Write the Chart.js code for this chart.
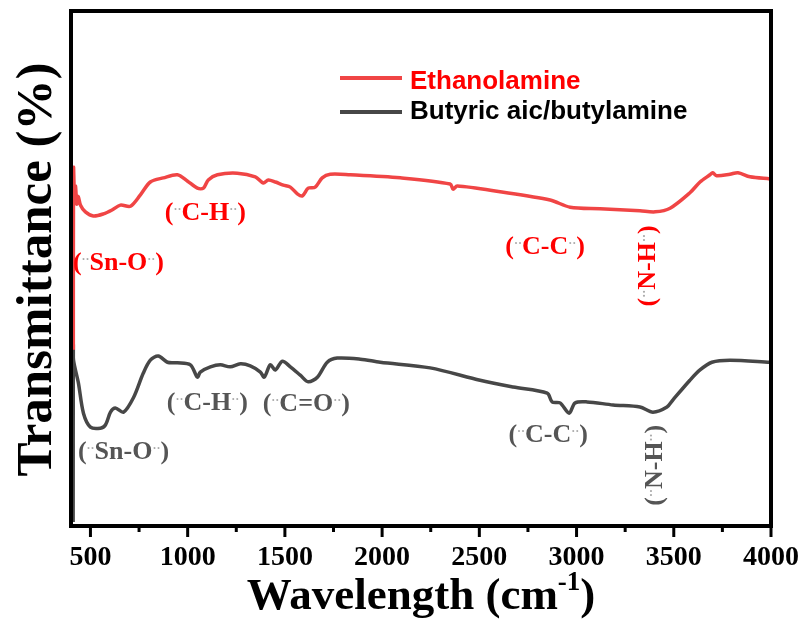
<!DOCTYPE html>
<html>
<head>
<meta charset="utf-8">
<script src="https://cdn.jsdelivr.net/npm/chart.js@4/dist/chart.umd.min.js"></script>
<style>
html,body{margin:0;padding:0;background:#fff;}
#wrap{width:806px;height:623px;position:relative;}
</style>
</head>
<body>
<div id="wrap"><canvas id="c" width="806" height="623"></canvas></div>
<script>
// Ethanolamine spectrum [wavenumber, transmittance (arb.)]
const ethanolamineX = [412,413,418,423,430,437,449,474,515,567,613,654,706,757,808,875,947,998,1050,1081,1106,1153,1255,1348,1389,1415,1451,1492,1528,1564,1590,1620,1656,1692,1733,1836,2093,2350,2365,2386,2607,2864,2967,3121,3326,3404,3481,3583,3635,3686,3700,3720,3789,3830,3892,3994];
const ethanolamineY = [34.2,69.5,64.0,66.0,62.5,64.0,62.3,61.0,60.2,60.6,61.4,62.3,62.1,64.3,66.8,67.6,68.2,67.0,65.6,65.6,67.2,68.2,68.5,67.8,66.6,67.2,66.8,66.2,65.8,64.5,64.1,65.6,65.8,67.6,68.3,68.2,67.6,66.4,65.4,66.0,64.9,63.3,61.9,61.6,61.2,61.0,61.7,64.7,66.8,68.2,68.6,68.0,68.3,68.6,67.8,67.4];
// Butyric acid/butylamine spectrum
const butylX = [411,412,413,438,464,500,551,577,603,628,670,721,772,808,849,896,947,1014,1050,1065,1117,1168,1219,1271,1322,1374,1394,1425,1451,1487,1528,1579,1620,1667,1718,1769,1888,1990,2247,2504,2674,2849,2874,2915,2962,2992,3054,3188,3326,3393,3465,3496,3583,3635,3696,3789,3994];
const butylY = [0.8,35.1,32.2,27.8,21.9,19.2,19.0,19.6,22.1,22.9,22.1,24.9,29.7,32.2,33.0,31.8,31.7,31.3,28.9,29.9,30.9,31.3,30.9,31.5,31.1,29.9,28.9,31.3,30.3,32.0,30.9,29.3,28.0,28.9,31.8,32.6,32.4,31.8,30.7,28.3,27.0,25.8,24.1,23.9,21.9,23.9,24.1,23.5,23.1,22.1,23.1,24.5,28.3,30.3,31.8,32.2,31.8];

const seriesNames = ["Ethanolamine", "Butyric aic/butylamine"];
const majorTicks = [500,1000,1500,2000,2500,3000,3500,4000];
const minorTicks = [750,1250,1750,2250,2750,3250,3750];

// annotation labels: text, x (cm-1), y, series index, vertical?
const labelText = ["Sn-O","C-H","C-C","N-H","Sn-O","C-H","C=O","C-C","N-H"];
const labelX    = [644,1091,2838,3368,670,1101,1610,2854,3404];
const labelY    = [51.1,60.8,54.2,50.5,14.4,23.9,23.7,17.7,11.8];
const labelSeries = [0,0,0,0,1,1,1,1,1];
const labelVertical = [false,false,false,true,false,false,false,false,true];

const lineColors = ["#f04545","#474747"];
const textColors = ["#ff0000","#555555"];
const legendTextColors = ["#ff0000","#000000"];

function toPts(xs, ys){ return xs.map((x,i)=>({x:x,y:ys[i]})); }

const serif = "'Liberation Serif','Times New Roman',serif";
const sans = "'Liberation Sans',Arial,sans-serif";

function drawLabel(ctx, text, cx, cy, color, vertical){
  const big = "bold 26px " + serif;
  const small = "bold 12px " + serif;
  const segs = [["(",big,color],["··",small,"rgba(150,150,150,0.8)"],[text,big,color],["··",small,"rgba(150,150,150,0.8)"],[")",big,color]];
  ctx.save();
  let w = 0;
  segs.forEach(s=>{ctx.font=s[1]; s.w=ctx.measureText(s[0]).width; w+=s.w;});
  ctx.translate(cx, cy);
  if (vertical) ctx.rotate(-Math.PI/2);
  ctx.textBaseline = "middle";
  ctx.textAlign = "left";
  let x = -w/2;
  segs.forEach(s=>{
    ctx.font = s[1]; ctx.fillStyle = s[2];
    ctx.fillText(s[0], x, s[1]===small ? -3 : 0);
    x += s.w;
  });
  ctx.restore();
}

const decor = {
  id: 'decor',
  afterDatasetsDraw(chart){
    const ctx = chart.ctx;
    const a = chart.chartArea;
    const xs = chart.scales.x, ys = chart.scales.y;
    ctx.save();
    // frame
    ctx.strokeStyle = "#000";
    ctx.lineWidth = 4;
    ctx.strokeRect(a.left, a.top, a.right-a.left, a.bottom-a.top);
    // ticks
    ctx.lineWidth = 3;
    majorTicks.forEach(t=>{
      const px = xs.getPixelForValue(t);
      ctx.beginPath(); ctx.moveTo(px, a.bottom); ctx.lineTo(px, a.bottom+11); ctx.stroke();
    });
    minorTicks.forEach(t=>{
      const px = xs.getPixelForValue(t);
      ctx.beginPath(); ctx.moveTo(px, a.bottom); ctx.lineTo(px, a.bottom+6); ctx.stroke();
    });
    // tick labels
    ctx.fillStyle = "#000";
    ctx.font = "bold 28px " + serif;
    ctx.textAlign = "center";
    ctx.textBaseline = "alphabetic";
    majorTicks.forEach(t=>{
      ctx.fillText(String(t), xs.getPixelForValue(t), a.bottom+39);
    });
    // x title with superscript
    const tFont = "bold 45px " + serif, sFont = "bold 27px " + serif;
    const p1 = "Wavelength (cm", p2 = "-1", p3 = ")";
    ctx.font = tFont; const w1 = ctx.measureText(p1).width, w3 = ctx.measureText(p3).width;
    ctx.font = sFont; const w2 = ctx.measureText(p2).width;
    let x0 = (a.left+a.right)/2 - (w1+w2+w3)/2;
    ctx.textAlign = "left";
    const by = 609;
    ctx.font = tFont; ctx.fillText(p1, x0, by);
    ctx.font = sFont; ctx.fillText(p2, x0+w1, by-19);
    ctx.font = tFont; ctx.fillText(p3, x0+w1+w2, by);
    // y title
    ctx.save();
    ctx.translate(51, (a.top+a.bottom)/2 + 1);
    ctx.rotate(-Math.PI/2);
    ctx.textAlign = "center";
    ctx.font = "bold 51px " + serif;
    ctx.fillText("Transmittance (%)", 0, 0);
    ctx.restore();
    // annotations
    labelText.forEach((t,i)=>{
      drawLabel(ctx, t, xs.getPixelForValue(labelX[i]), ys.getPixelForValue(labelY[i]), textColors[labelSeries[i]], labelVertical[i]);
    });
    // legend
    const legY = [78, 112], legTextY = [82, 112];
    seriesNames.forEach((n,i)=>{
      ctx.strokeStyle = lineColors[i];
      ctx.lineWidth = 4;
      ctx.beginPath(); ctx.moveTo(340, legY[i]); ctx.lineTo(402, legY[i]); ctx.stroke();
      ctx.fillStyle = legendTextColors[i];
      ctx.font = "bold 26px " + sans;
      ctx.textAlign = "left"; ctx.textBaseline = "middle";
      ctx.fillText(n, 410, legTextY[i]);
    });
    ctx.restore();
  }
};

new Chart(document.getElementById('c'), {
  type: 'line',
  data: {
    datasets: [
      {label: seriesNames[0], data: toPts(ethanolamineX, ethanolamineY), borderColor: lineColors[0], borderWidth: 3.5, pointRadius: 0, tension: 0.3, fill: false},
      {label: seriesNames[1], data: toPts(butylX, butylY), borderColor: lineColors[1], borderWidth: 3.5, pointRadius: 0, tension: 0.3, fill: false}
    ]
  },
  options: {
    responsive: false,
    animation: false,
    layout: {padding: {left: 71, right: 35, top: 11, bottom: 97}},
    plugins: {legend: {display: false}, tooltip: {enabled: false}},
    scales: {
      x: {type: 'linear', min: 400, max: 4000, display: false},
      y: {type: 'linear', min: 0, max: 100, display: false}
    }
  },
  plugins: [decor]
});
</script>
</body>
</html>
